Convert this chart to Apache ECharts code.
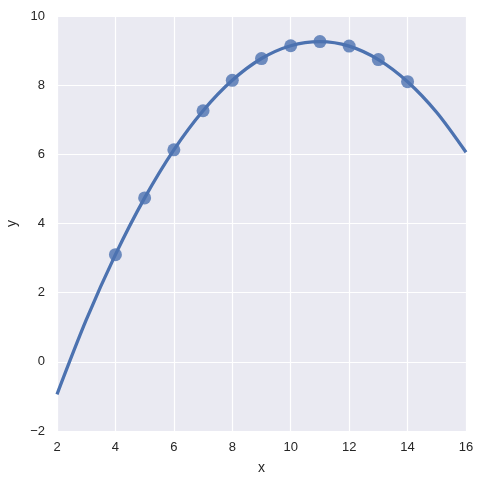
<!DOCTYPE html>
<html><head><meta charset="utf-8">
<script src="https://cdn.jsdelivr.net/npm/echarts@6/dist/echarts.min.js"></script>
<style>html,body{margin:0;padding:0;background:#fff}#c{width:483px;height:486px}</style>
</head><body><div id="c"></div>
<script>
const xData = [10, 8, 13, 9, 11, 14, 6, 4, 12, 7, 5];
const yData = [9.14, 8.14, 8.74, 8.77, 9.26, 8.10, 6.13, 3.10, 9.13, 7.26, 4.74];
const lineX = [2, 3, 4, 5, 6, 7, 8, 9, 10, 11, 12, 13, 14, 15, 16];
const lineY = [-0.94, 1.21, 3.10, 4.74, 6.13, 7.26, 8.14, 8.77, 9.14, 9.26, 9.13, 8.74, 8.10, 7.21, 6.06];
const xTicks = [2, 4, 6, 8, 10, 12, 14, 16];
const yTicks = [-2, 0, 2, 4, 6, 8, 10];

const fmt = v => String(v).replace('-', '\u2212');
const chart = echarts.init(document.getElementById('c'));
const axisCommon = {
  axisLine: {show: false}, axisTick: {show: false},
  splitLine: {show: true, lineStyle: {color: '#ffffff', width: 1.2}},
  axisLabel: {color: '#262626', fontSize: 13, fontFamily: 'Liberation Sans, Arial', formatter: fmt},
  nameTextStyle: {color: '#262626', fontSize: 14, fontFamily: 'Liberation Sans, Arial'}
};
chart.setOption({
  animation: false,
  grid: {left: 57, right: 17, top: 16, bottom: 55, show: true, backgroundColor: '#EAEAF2', borderWidth: 0,
         containLabel: false, outerBoundsMode: 'none'},
  xAxis: Object.assign({type: 'value', min: xTicks[0], max: xTicks[xTicks.length-1], interval: 2,
    name: 'x', nameLocation: 'middle', nameGap: 30}, axisCommon,
    {axisLabel: Object.assign({}, axisCommon.axisLabel, {margin: 10})}),
  yAxis: Object.assign({type: 'value', min: yTicks[0], max: yTicks[yTicks.length-1], interval: 2,
    name: 'y', nameLocation: 'middle', nameGap: 35}, axisCommon,
    {axisLabel: Object.assign({}, axisCommon.axisLabel, {margin: 12})}),
  series: [
    {type: 'scatter', data: xData.map((x, i) => [x, yData[i]]), symbolSize: 13,
     itemStyle: {color: '#4C72B0', opacity: 0.8}, z: 3},
    {type: 'line', data: lineX.map((x, i) => [x, lineY[i]]), smooth: 0.3, showSymbol: false,
     lineStyle: {color: '#4C72B0', width: 3.3}, z: 4}
  ]
});
</script></body></html>
